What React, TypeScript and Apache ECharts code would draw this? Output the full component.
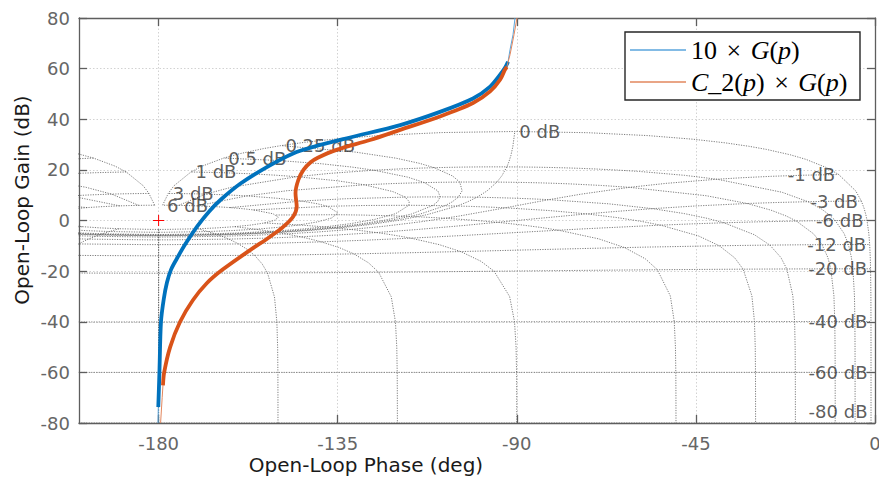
import React, { useEffect, useRef } from 'react';
import * as echarts from 'echarts';

// ---- Axis / ticks ----
const PHASE_MIN = -200;
const PHASE_MAX = 0;
const GAIN_MIN = -80;
const GAIN_MAX = 80;
const GAIN_STEP = 20;
const X_TICKS = [-180, -135, -90, -45, 0];

const NAME_BLUE = '10 × G(p)';
const NAME_RED = 'C_2(p) × G(p)';

// ---- Open-loop curves: [phase deg, gain dB] ----
const BLUE_LOW = [[-180.15, -80], [-180.08, -73.7]];
const BLUE_MAIN = [
  [-180.08, -73.7], [-179.8, -60.4], [-179.4, -40.0], [-178.7, -31.0], [-177.9, -24.5],
  [-176.9, -19.5], [-175.5, -15.3], [-173.2, -9.1], [-170.3, -2.3], [-167.3, 3.6],
  [-164.4, 8.2], [-159.5, 14.5], [-152.8, 21.1], [-146.2, 26.5], [-141.1, 29.1],
  [-131.9, 32.8], [-119.3, 37.7], [-109.3, 42.9], [-101.0, 48.2], [-96.7, 52.9],
  [-94.2, 57.6], [-93.0, 60.2], [-92.2, 62.7],
];
const BLUE_HIGH = [[-92.2, 62.7], [-91.7, 67.5], [-90.95, 73.4], [-90.45, 80]];

const RED_LOW = [[-179.5, -80], [-179.1, -70], [-178.9, -65.1]];
const RED_MAIN = [
  [-178.9, -65.1], [-178.6, -60.0], [-177.1, -50.0], [-174.6, -40.0], [-171.4, -31.5],
  [-167.9, -24.8], [-164.0, -19.5], [-157.0, -11.7], [-152.0, -6.4], [-148.7, -2.5],
  [-146.2, 1.5], [-145.3, 5.5], [-145.6, 10.8], [-144.9, 16.0], [-143.6, 20.0],
  [-141.8, 23.0], [-140.0, 24.8], [-135.3, 27.9], [-126.9, 31.8], [-119.3, 35.8],
  [-109.3, 41.1], [-101.0, 46.4], [-96.7, 51.0], [-94.2, 55.6], [-93.0, 59.5], [-92.5, 60.7],
];
const RED_HIGH = [[-92.5, 60.7], [-91.7, 65.5], [-90.7, 73.4], [-89.95, 80]];

// critical point marker (-180 deg, 0 dB)
const CROSS_H = [[-181.4, 0], [-178.6, 0]];
const CROSS_V = [[-180, -2.2], [-180, 2.2]];

// ---- Nichols chart grid definition (closed-loop values) ----
const ISOPHASE_DEG = [1, 5, 10, 20, 30, 50, 90, 120, 150, 180];
const ISOPHASE_GAINS_DB = [6, 3, 2, 1, 0.75, 0.5, 0.4, 0.3, 0.25, 0.2, 0.15, 0.1, 0.05, 0,
  -0.05, -0.1, -0.15, -0.2, -0.25, -0.3, -0.4, -0.5, -0.75, -1, -2, -3, -4, -5, -6, -9, -12, -16,
  -20, -30, -40, -50, -60, -70, -80, -90, -100];
const ISOGAIN_DB = [6, 3, 1, 0.5, 0.25, 0, -1, -3, -6, -12, -20, -40, -60, -80];
const ISOGAIN_PHASE_BASE = [1, 2, 3, 4, 5, 7.5, 10, 15, 20, 25, 30, 45, 60, 75, 90, 105, 120, 135, 150, 175, 180];

function closedToOpen(gDb: number, pDeg: number): [number, number] {
  const m = Math.pow(10, gDb / 20);
  const p = (pDeg * Math.PI) / 180;
  const zr = m * Math.cos(p);
  const zi = m * Math.sin(p);
  const dr = 1 - zr;
  const di = -zi;
  const d2 = dr * dr + di * di;
  const hr = (zr * dr + zi * di) / d2;
  const hi = (zi * dr - zr * di) / d2;
  const gain = 20 * Math.log10(Math.hypot(hr, hi));
  const ang = (Math.atan2(hi, hr) * 180) / Math.PI;
  const rem = (ang + 360) % 360;
  return [rem, gain];
}

const GRID_LINE = { color: '#5c5c5c', width: 0.8, type: [1.2, 1.3] as number[] };

function buildGridSeries() {
  const out: any[] = [];
  ISOPHASE_DEG.forEach((p) => {
    const pts = ISOPHASE_GAINS_DB.map((g) => closedToOpen(g, p));
    [pts.map(([r, g]) => [r - 360, g]), pts.map(([r, g]) => [-r, g])].forEach((d) => {
      out.push({
        type: 'line', data: d, showSymbol: false, symbol: 'none', silent: true, z: 1,
        lineStyle: GRID_LINE,
      });
    });
  });
  const psi = [...ISOGAIN_PHASE_BASE, ...ISOGAIN_PHASE_BASE.slice(0, -1).reverse().map((v) => 360 - v)];
  const labels: any[] = [];
  ISOGAIN_DB.forEach((g) => {
    const d = psi.map((q) => {
      const [r, gn] = closedToOpen(g, q);
      return [r - 360, gn];
    });
    out.push({
      type: 'line', data: d, showSymbol: false, symbol: 'none', silent: true, z: 1,
      lineStyle: GRID_LINE,
    });
    const last = d[d.length - 1];
    labels.push({
      name: `${g} dB`,
      value: [last[0], Math.max(last[1], GAIN_MIN + 4.6)],
      label: { position: g >= 0 ? 'right' : 'left', distance: g >= 0 ? 4 : 3 },
    });
  });
  out.push({
    type: 'scatter', data: labels, symbolSize: 1, silent: true, z: 2,
    itemStyle: { color: 'rgba(0,0,0,0)' },
    label: {
      show: true, formatter: '{b}', fontFamily: 'DejaVu Sans', fontSize: 18, color: '#333333',
    },
  });
  return out;
}

const AXIS_COLOR = '#5e5e5e';

export default function App() {
  const ref = useRef<HTMLDivElement>(null);
  useEffect(() => {
    if (!ref.current) return;
    const chart = echarts.init(ref.current, undefined, { renderer: 'svg' });
    const tickStyle = { inside: true, length: 8, lineStyle: { color: AXIS_COLOR, width: 1.3 } };
    const labelFont = { fontFamily: 'DejaVu Sans', fontSize: 18, color: '#666666' };
    const serif = { fontFamily: 'Liberation Serif', fontSize: 26, color: '#000', lineHeight: 28 };
    const option: any = {
      animation: false,
      backgroundColor: '#ffffff',
      grid: { left: 79, right: 4, top: 18, bottom: 54, containLabel: false, outerBoundsMode: 'none' },
      xAxis: [
        {
          type: 'value', min: PHASE_MIN, max: PHASE_MAX, position: 'bottom',
          axisLine: { show: true, onZero: false, lineStyle: { color: AXIS_COLOR, width: 1.3 } },
          axisTick: { ...tickStyle, customValues: X_TICKS },
          axisLabel: { ...labelFont, margin: 11, customValues: X_TICKS },
          splitLine: { show: true, lineStyle: { color: '#d2d2d2', width: 1, type: [1.5, 2] } },
        },
        {
          type: 'value', min: PHASE_MIN, max: PHASE_MAX, position: 'top',
          axisLine: { show: true, onZero: false, lineStyle: { color: AXIS_COLOR, width: 1.3 } },
          axisTick: { ...tickStyle, customValues: X_TICKS },
          axisLabel: { show: false, customValues: X_TICKS },
          splitLine: { show: false },
        },
      ],
      yAxis: [
        {
          type: 'value', min: GAIN_MIN, max: GAIN_MAX, interval: GAIN_STEP, position: 'left',
          axisLine: { show: true, onZero: false, lineStyle: { color: AXIS_COLOR, width: 1.3 } },
          axisTick: tickStyle,
          axisLabel: { ...labelFont, margin: 9 },
          splitLine: { show: true, lineStyle: { color: '#d2d2d2', width: 1, type: [1.5, 2] } },
        },
        {
          type: 'value', min: GAIN_MIN, max: GAIN_MAX, interval: GAIN_STEP, position: 'right',
          axisLine: { show: true, onZero: false, lineStyle: { color: AXIS_COLOR, width: 1.3 } },
          axisTick: tickStyle,
          axisLabel: { show: false },
          splitLine: { show: false },
        },
      ],
      legend: {
        orient: 'vertical', left: 625, top: 32,
        data: [NAME_BLUE, NAME_RED],
        icon: 'rect', itemWidth: 56, itemHeight: 1.5, itemGap: 4,
        padding: [4, 4, 4, 5],
        borderColor: '#262626', borderWidth: 1.4, backgroundColor: '#ffffff',
        selectedMode: false,
        textStyle: {
          ...serif, width: 165,
          rich: {
            n: { ...serif },
            i: { ...serif, fontStyle: 'italic' },
            x: { ...serif, padding: [0, 3, 0, 3] },
          },
        },
        formatter: (name: string) =>
          name === NAME_BLUE
            ? '{n|10 }{x|×}{n| }{i|G}{n|(}{i|p}{n|)}'
            : '{i|C}{n|_2(}{i|p}{n|) }{x|×}{n| }{i|G}{n|(}{i|p}{n|)}',
      },
      graphic: [
        {
          type: 'text', x: 22, y: 200, rotation: Math.PI / 2,
          style: {
            text: 'Open-Loop Gain (dB)', fontFamily: 'DejaVu Sans', fontSize: 20,
            fill: '#1a1a1a', align: 'center', verticalAlign: 'middle',
          },
        },
        {
          type: 'text', x: 366, y: 465,
          style: {
            text: 'Open-Loop Phase (deg)', fontFamily: 'DejaVu Sans', fontSize: 20,
            fill: '#1a1a1a', align: 'center', verticalAlign: 'middle',
          },
        },
      ],
      series: [
        ...buildGridSeries(),
        {
          name: NAME_BLUE, type: 'line', data: [...BLUE_LOW, ...BLUE_MAIN.slice(1), ...BLUE_HIGH.slice(1)],
          showSymbol: false, symbol: 'none', z: 3, color: '#5aa5dc',
          lineStyle: { color: '#5aa5dc', width: 1 },
        },
        {
          name: NAME_BLUE, type: 'line', data: BLUE_MAIN, smooth: 0.3,
          showSymbol: false, symbol: 'none', z: 4, color: '#0072BD',
          lineStyle: { color: '#0072BD', width: 3.8 },
        },
        {
          name: NAME_RED, type: 'line', data: [...RED_LOW, ...RED_MAIN.slice(1), ...RED_HIGH.slice(1)],
          showSymbol: false, symbol: 'none', z: 5, color: '#e2875e',
          lineStyle: { color: '#e2875e', width: 1 },
        },
        {
          name: NAME_RED, type: 'line', data: RED_MAIN, smooth: 0.3,
          showSymbol: false, symbol: 'none', z: 6, color: '#D95319',
          lineStyle: { color: '#D95319', width: 3.8 },
        },
        {
          type: 'line', data: CROSS_H, showSymbol: false, symbol: 'none', z: 7, silent: true,
          lineStyle: { color: '#ff0000', width: 1 },
        },
        {
          type: 'line', data: CROSS_V, showSymbol: false, symbol: 'none', z: 7, silent: true,
          lineStyle: { color: '#ff0000', width: 1 },
        },
      ],
    };
    chart.setOption(option);
    return () => chart.dispose();
  }, []);
  return <div ref={ref} style={{ position: 'absolute', left: 0, top: 0, width: 879, height: 477 }} />;
}
